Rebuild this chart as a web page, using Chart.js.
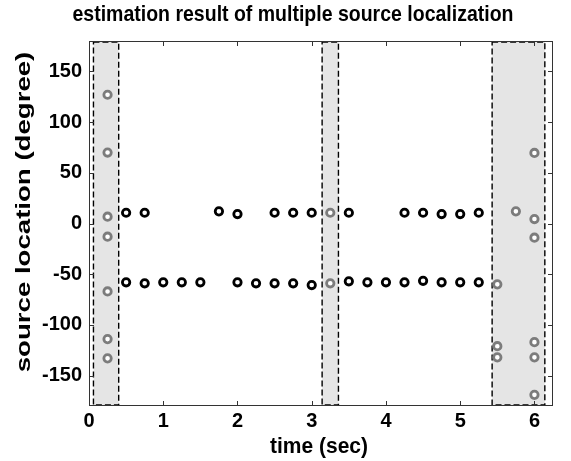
<!DOCTYPE html>
<html>
<head>
<meta charset="utf-8">
<script src="https://cdn.jsdelivr.net/npm/chart.js@4.4.1/dist/chart.umd.min.js"></script>
<style>
  html, body { margin: 0; padding: 0; background: #ffffff; }
  #c { display: block; }
</style>
</head>
<body>
<canvas id="c" width="571" height="461"></canvas>
<script>
// ---- data ----
const chartTitle = 'estimation result of multiple source localization';
const xAxisTitle = 'time (sec)';
const yAxisTitle = 'source location (degree)';

const xTicks = [0, 1, 2, 3, 4, 5, 6];
const yTicks = [-150, -100, -50, 0, 50, 100, 150];
const xRange = [0, 6.25];
const yRange = [-180, 180];

// black circles (tracked sources)
const blackTimes = [0.5, 0.75, 1.75, 2.0, 2.5, 2.75, 3.0, 3.5, 4.25, 4.5, 4.75, 5.0, 5.25,
                    0.5, 0.75, 1.0, 1.25, 1.5, 2.0, 2.25, 2.5, 2.75, 3.0, 3.5, 3.75, 4.0, 4.25, 4.5, 4.75, 5.0, 5.25];
const blackDeg   = [10.6, 10.6, 12, 9.3, 10.6, 10.6, 10.6, 10.6, 10.6, 10.6, 9.3, 9.3, 10.6,
                    -58, -59, -58, -58, -58, -58, -59, -59, -59, -60.7, -57, -58, -58, -58, -56.5, -58, -58, -58];

// gray circles (inside the shaded transition windows)
const grayTimes = [0.25, 0.25, 0.25, 0.25, 0.25, 0.25, 0.25,
                   3.25, 3.25,
                   5.5, 5.5, 5.5,
                   5.75,
                   6.0, 6.0, 6.0, 6.0, 6.0, 6.0];
const grayDeg   = [127, 70, 6.7, -13, -67, -114, -133,
                   10.6, -59,
                   -60, -121, -132,
                   12,
                   69.6, 4.4, -14, -117, -132, -169];

// shaded windows (time spans)
const regionStart = [0.06, 3.14, 5.43];
const regionEnd   = [0.40, 3.36, 6.14];
const regionLow = -179;
const regionHigh = 179;

// ---- build ----
const FONT = '"Liberation Sans", Arial, Helvetica, sans-serif';
const toPts = (xs, ys) => xs.map((x, i) => ({ x: x, y: ys[i] }));

function drawText(ctx, text, cx, cy, size, rot, sx, sy) {
  ctx.save();
  ctx.translate(cx, cy);
  ctx.rotate(rot);
  ctx.scale(sx, sy);
  ctx.fillStyle = '#000000';
  ctx.font = 'bold ' + size + 'px ' + FONT;
  ctx.textAlign = 'center';
  ctx.textBaseline = 'middle';
  ctx.fillText(text, 0, 0);
  ctx.restore();
}

const decorPlugin = {
  id: 'decor',
  beforeDatasetsDraw(chart) {
    const { ctx, chartArea: a, scales: { x, y } } = chart;
    ctx.save();
    // shaded windows
    for (let i = 0; i < regionStart.length; i++) {
      const x0 = x.getPixelForValue(regionStart[i]);
      const x1 = x.getPixelForValue(regionEnd[i]);
      const y0 = y.getPixelForValue(regionHigh);
      const y1 = y.getPixelForValue(regionLow);
      ctx.fillStyle = '#e5e5e5';
      ctx.fillRect(x0, y0, x1 - x0, y1 - y0);
      ctx.setLineDash([6, 3]);
      ctx.lineWidth = 1.4;
      ctx.strokeStyle = '#000000';
      ctx.strokeRect(x0, y0, x1 - x0, y1 - y0);
    }
    ctx.setLineDash([]);
    // axes box
    ctx.strokeStyle = '#333333';
    ctx.lineWidth = 1;
    ctx.strokeRect(a.left + 0.5, a.top + 0.5, a.right - a.left - 1, a.bottom - a.top - 1);
    // inward ticks on all sides
    const tl = 5;
    ctx.beginPath();
    xTicks.forEach(v => {
      const px = Math.round(x.getPixelForValue(v)) + 0.5;
      ctx.moveTo(px, a.bottom); ctx.lineTo(px, a.bottom - tl);
      ctx.moveTo(px, a.top); ctx.lineTo(px, a.top + tl);
    });
    yTicks.forEach(v => {
      const py = Math.round(y.getPixelForValue(v)) + 0.5;
      ctx.moveTo(a.left, py); ctx.lineTo(a.left + tl, py);
      ctx.moveTo(a.right, py); ctx.lineTo(a.right - tl, py);
    });
    ctx.stroke();
    ctx.restore();
  },
  afterDraw(chart) {
    const { ctx } = chart;
    drawText(ctx, chartTitle, 293, 15, 19.5, 0, 1, 1.1);
    drawText(ctx, xAxisTitle, 319, 447, 21, 0, 1, 1.05);
    drawText(ctx, yAxisTitle, 24, 212, 20, -Math.PI / 2, 1.38, 1);
  }
};

new Chart(document.getElementById('c'), {
  type: 'scatter',
  data: {
    datasets: [
      {
        label: 'tracked',
        data: toPts(blackTimes, blackDeg),
        pointRadius: 3.7,
        pointBorderWidth: 2.8,
        pointBorderColor: '#000000',
        pointBackgroundColor: '#ffffff',
        showLine: false
      },
      {
        label: 'transition',
        data: toPts(grayTimes, grayDeg),
        pointRadius: 3.7,
        pointBorderWidth: 2.8,
        pointBorderColor: '#7c7c7c',
        pointBackgroundColor: '#ffffff',
        showLine: false
      }
    ]
  },
  options: {
    responsive: false,
    animation: false,
    devicePixelRatio: 1,
    layout: { padding: { left: 0, right: 18, top: 41, bottom: 0 } },
    plugins: {
      legend: { display: false },
      tooltip: { enabled: false },
      title: { display: false }
    },
    scales: {
      x: {
        type: 'linear',
        min: xRange[0],
        max: xRange[1],
        grid: { display: false, drawTicks: false },
        border: { display: false },
        afterBuildTicks: s => { s.ticks = xTicks.map(v => ({ value: v })); },
        afterFit: s => { s.height = 55; },
        ticks: {
          color: '#000000',
          font: { family: FONT, size: 20, weight: 'bold' },
          padding: 3,
          maxRotation: 0,
          autoSkip: false
        },
        title: { display: false }
      },
      y: {
        type: 'linear',
        min: yRange[0],
        max: yRange[1],
        grid: { display: false, drawTicks: false },
        border: { display: false },
        afterBuildTicks: s => { s.ticks = yTicks.map(v => ({ value: v })); },
        afterFit: s => { s.width = 89; },
        ticks: {
          color: '#000000',
          font: { family: FONT, size: 20, weight: 'bold' },
          padding: 7,
          autoSkip: false
        },
        title: { display: false }
      }
    }
  },
  plugins: [decorPlugin]
});
</script>
</body>
</html>
